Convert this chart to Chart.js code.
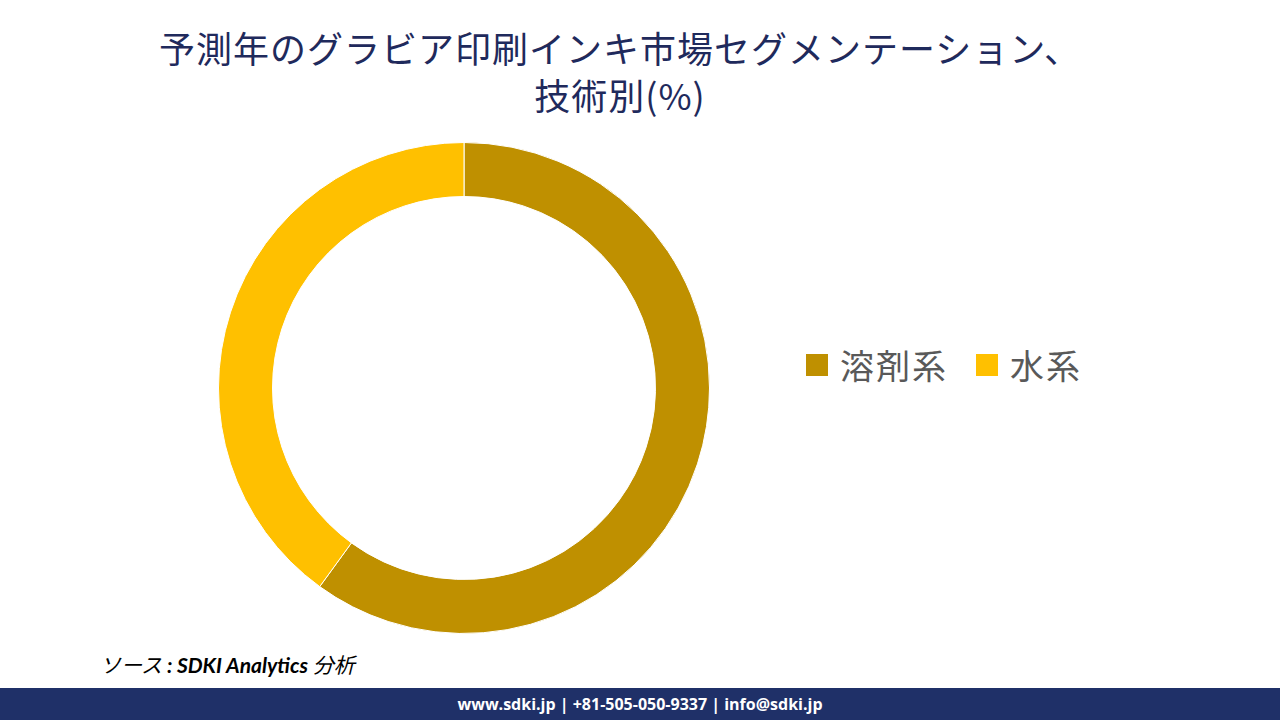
<!DOCTYPE html>
<html lang="ja">

<head>
    <meta charset="UTF-8">
    <meta name="viewport" content="width=device-width, initial-scale=1.0">
    <script src="https://cdn.jsdelivr.net/npm/chart.js@4.4.1/dist/chart.umd.min.js"></script>
</head>
<style>
    body {
        margin: 0;
        width: 1280px;
        height: 720px;
        background: #ffffff;
        position: relative;
        overflow: hidden;
        font-family: "Noto Sans CJK JP", sans-serif;
    }

    .title {
        position: absolute;
        left: 0;
        width: 1240px;
        top: 24px;
        text-align: center;
        color: #1f2a5c;
        font-size: 36px;
        letter-spacing: 1px;
        line-height: 47px;
        font-family: "Noto Sans CJK JP", serif;
    }

    .chart-box {
        position: absolute;
        left: 218px;
        top: 142px;
        width: 492px;
        height: 492px;
    }

    .legend {
        position: absolute;
        left: 806px;
        top: 342px;
        display: flex;
        align-items: center;
        color: #595959;
        font-size: 34px;
        letter-spacing: 2px;
        line-height: 46px;
    }

    .legend .item {
        display: flex;
        align-items: center;
        margin-right: 28px;
    }

    .legend .sw {
        width: 22px;
        height: 22px;
        margin-right: 12px;
    }

    .source {
        position: absolute;
        left: 100px;
        top: 649px;
        font-size: 21px;
        font-style: italic;
        color: #000;
        font-family: Lato, "Noto Sans CJK JP", sans-serif;
    }

    .footer {
        position: absolute;
        left: 0;
        top: 688px;
        width: 1280px;
        height: 32px;
        background: #1f3068;
        color: #fff;
        text-align: center;
        font-weight: bold;
        font-size: 16px;
        line-height: 32px;
        font-family: "Open Sans", sans-serif;
    }
</style>

<body>
    <div class="title">予測年のグラビア印刷インキ市場セグメンテーション、<br>技術別(%)</div>
    <div class="chart-box"><canvas id="chart"></canvas></div>
    <div class="legend" id="legend"></div>
    <div class="source">ソース <b>: SDKI Analytics</b> 分析</div>
    <div class="footer">www.sdki.jp | +81-505-050-9337 | info@sdki.jp</div>

    <script>
        const labels = ['溶剤系', '水系'];
        const shares = [60, 40];
        const colors = ['#bf9000', '#ffc000'];

        const legend = document.getElementById('legend');
        labels.forEach((name, i) => {
            const item = document.createElement('div');
            item.className = 'item';
            item.innerHTML = '<span class="sw" style="background:' + colors[i] + '"></span>' + name;
            legend.appendChild(item);
        });

        const ctx = document.getElementById('chart').getContext('2d');
        new Chart(ctx, {
            type: 'doughnut',
            data: {
                labels: labels,
                datasets: [{
                    data: shares,
                    backgroundColor: colors,
                    borderColor: '#ffffff',
                    borderWidth: 1
                }]
            },
            options: {
                responsive: true,
                maintainAspectRatio: false,
                animation: false,
                cutout: '78%',
                layout: { padding: 0 },
                plugins: {
                    legend: { display: false },
                    tooltip: { enabled: false }
                }
            }
        });
    </script>
</body>

</html>
